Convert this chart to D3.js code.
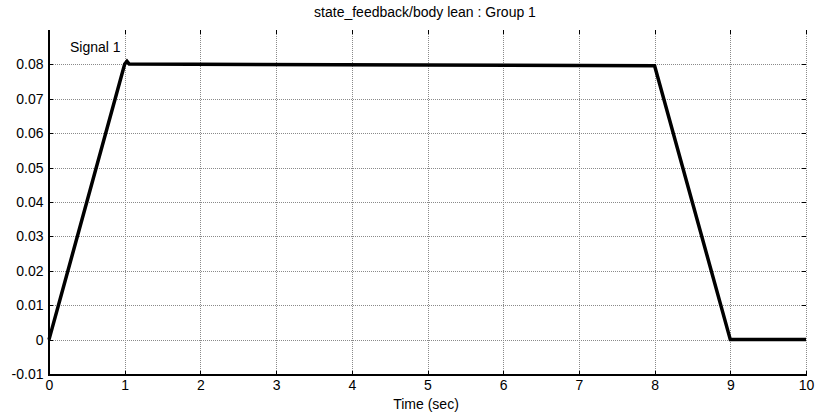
<!DOCTYPE html>
<html>
<head>
<meta charset="utf-8">
<script src="https://cdn.jsdelivr.net/npm/d3@7"></script>
<style>
  html, body { margin: 0; padding: 0; background: #fff; }
  text { font-family: "Liberation Sans", Arial, sans-serif; }
</style>
</head>
<body>
<svg id="chart" width="817" height="419"></svg>
<script>
// Signal samples: time (sec) and body lean value
const timeValues = [0, 1, 1.03, 1.06, 8, 9, 10];
const leanValues = [0, 0.0801, 0.0809, 0.0801, 0.0796, 0, 0];

const xTicks = [0, 1, 2, 3, 4, 5, 6, 7, 8, 9, 10];
const yTicks = [-0.01, 0, 0.01, 0.02, 0.03, 0.04, 0.05, 0.06, 0.07, 0.08];

const titleText = "state_feedback/body lean : Group 1";
const xLabelText = "Time (sec)";
const signalName = "Signal 1";

const svg = d3.select("#chart");
const plotLeft = 49, plotRight = 806, plotTop = 30, plotBottom = 374;

const x = d3.scaleLinear().domain([0, 10]).range([plotLeft, plotRight]);
const y = d3.scaleLinear().domain([-0.01, 0.09]).range([plotBottom, plotTop]);

// dotted grid
const grid = svg.append("g").attr("stroke", "#8a8a8a").attr("stroke-width", 1)
  .attr("stroke-dasharray", "1,1").attr("shape-rendering", "crispEdges");
grid.selectAll(".vx").data(xTicks.slice(1)).join("line")
  .attr("x1", d => Math.round(x(d)) + 0.5).attr("x2", d => Math.round(x(d)) + 0.5)
  .attr("y1", plotTop).attr("y2", plotBottom);
grid.selectAll(".hy").data(yTicks.slice(1)).join("line")
  .attr("x1", plotLeft).attr("x2", plotRight)
  .attr("y1", d => Math.round(y(d)) + 0.5).attr("y2", d => Math.round(y(d)) + 0.5);

// axes with inward ticks
const fmtY = d => (d === 0 ? "0" : d3.format(".2f")(d).replace("−", "-"));
const xAxis = d3.axisBottom(x).tickValues(xTicks).tickSize(-4).tickPadding(6).tickFormat(d3.format("d"));
const yAxis = d3.axisLeft(y).tickValues(yTicks).tickSize(-4).tickPadding(5).tickFormat(fmtY);

const gx = svg.append("g").attr("transform", `translate(0,${plotBottom + 0.5})`).call(xAxis);
const gy = svg.append("g").attr("transform", `translate(${plotLeft - 0.5},0)`).call(yAxis);
[gx, gy].forEach(g => {
  g.select(".domain").remove();
  g.selectAll("line").attr("stroke", "#000").attr("shape-rendering", "crispEdges");
  g.selectAll("text").attr("font-size", 14).attr("fill", "#000")
    .style("font-family", '"Liberation Sans", Arial, sans-serif');
});

// top and right inward ticks
const tk = svg.append("g").attr("stroke", "#000").attr("shape-rendering", "crispEdges");
tk.selectAll(".tt").data(xTicks).join("line")
  .attr("x1", d => Math.round(x(d)) + 0.5).attr("x2", d => Math.round(x(d)) + 0.5)
  .attr("y1", plotTop).attr("y2", plotTop + 4);
tk.selectAll(".rt").data(yTicks).join("line")
  .attr("x1", plotRight - 4).attr("x2", plotRight)
  .attr("y1", d => Math.round(y(d)) + 0.5).attr("y2", d => Math.round(y(d)) + 0.5);

// solid left and bottom axis lines
svg.append("line").attr("x1", plotLeft - 0.5).attr("x2", plotLeft - 0.5).attr("y1", plotTop).attr("y2", plotBottom + 1)
  .attr("stroke", "#000").attr("stroke-width", 2).attr("shape-rendering", "crispEdges");
svg.append("line").attr("x1", plotLeft - 1).attr("x2", plotRight + 1).attr("y1", plotBottom + 0.5).attr("y2", plotBottom + 0.5)
  .attr("stroke", "#000").attr("stroke-width", 2).attr("shape-rendering", "crispEdges");

// signal trace
const pts = timeValues.map((t, i) => [t, leanValues[i]]);
svg.append("path").datum(pts)
  .attr("fill", "none").attr("stroke", "#000").attr("stroke-width", 3.5)
  .attr("stroke-linejoin", "miter")
  .attr("d", d3.line().x(d => x(d[0])).y(d => y(d[1])));

// labels
svg.append("text").attr("x", 425).attr("y", 17).attr("text-anchor", "middle")
  .attr("font-size", 14).text(titleText);
svg.append("text").attr("x", 426).attr("y", 409).attr("text-anchor", "middle")
  .attr("font-size", 14).text(xLabelText);
svg.append("text").attr("x", 70).attr("y", 52).attr("font-size", 14).text(signalName);
</script>
</body>
</html>
